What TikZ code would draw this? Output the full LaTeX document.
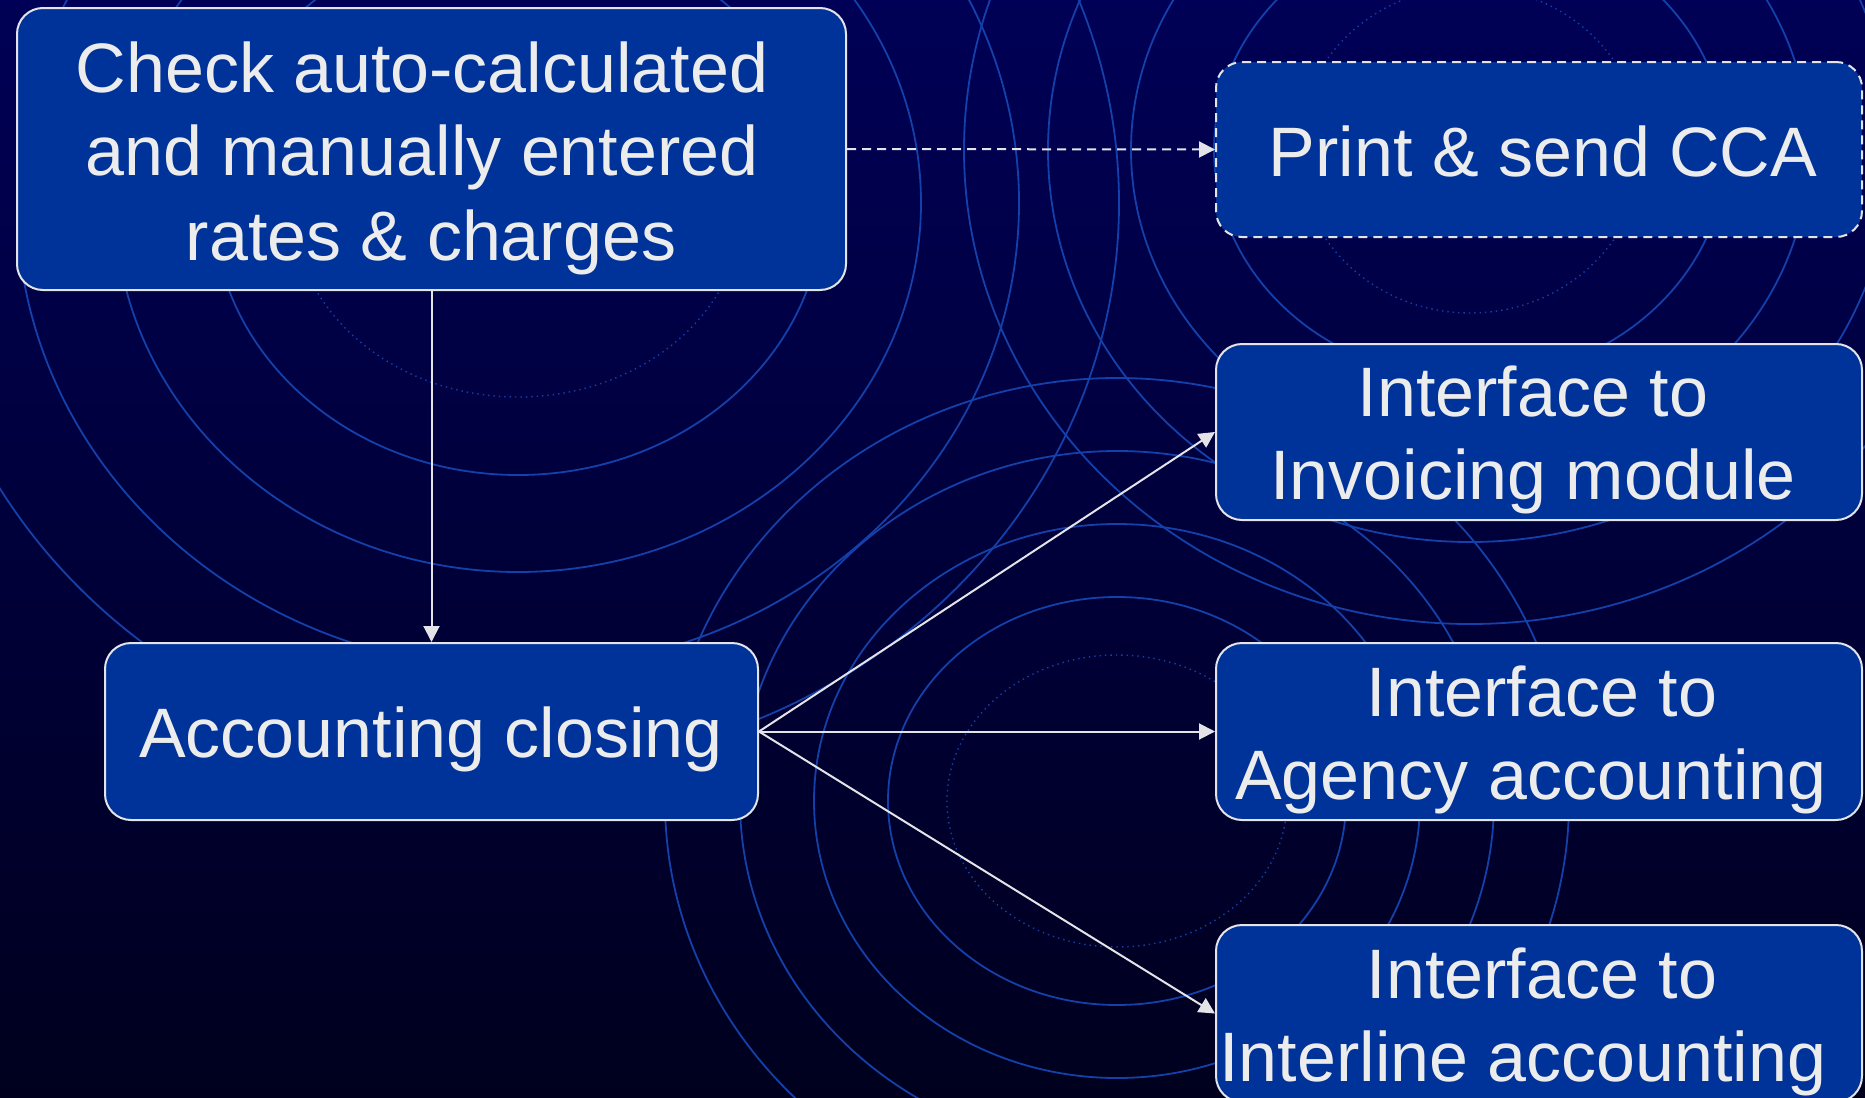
\documentclass[tikz,border=0pt]{standalone}
\usepackage{fontspec}
\setmainfont{Liberation Sans}
\usetikzlibrary{arrows.meta,fit}
\definecolor{bgtop}{RGB}{0,0,86}
\definecolor{bgmid}{RGB}{0,0,90}
\definecolor{bgbot}{RGB}{0,0,30}
\definecolor{ringc}{RGB}{20,64,170}
\definecolor{boxfill}{RGB}{0,51,153}
\definecolor{txtc}{RGB}{236,236,236}
\definecolor{edgec}{RGB}{228,228,232}
\begin{document}
\begin{tikzpicture}[x=0.5pt,y=-0.5pt,
  ring/.style={draw=ringc,line width=0.9pt},
  dotring/.style={draw=ringc,line width=0.7pt,dotted},
  box/.style={draw=edgec,fill=boxfill,line width=1pt,rounded corners=13pt,inner sep=0pt},
  dbox/.style={box,dash pattern=on 4.5pt off 3pt},
  lbl/.style={text=txtc,font=\fontsize{35}{42}\selectfont,anchor=base,inner sep=0pt},
  arr/.style={draw=edgec,line width=1pt,-{Triangle[length=8pt,width=8pt]}},
  darr/.style={arr,dash pattern=on 4.5pt off 3pt}]

\useasboundingbox (0,0) rectangle (1865,1098);
\shade[top color=bgtop,middle color=bgmid,bottom color=bgbot] (0,0) rectangle (1865,1098);

\begin{scope}
\clip (0,0) rectangle (1865,1098);
% ring set A
\draw[dotring] (518,203) ellipse [x radius=113pt, y radius=97pt];
\draw[ring] (518,203) ellipse [x radius=152.5pt, y radius=136pt];
\draw[ring] (518,203) ellipse [x radius=201.5pt, y radius=184.5pt];
\draw[ring] (518,203) ellipse [x radius=250.5pt, y radius=233pt];
\draw[ring] (518,203) ellipse [x radius=300.5pt, y radius=281.5pt];
% ring set B
\draw[dotring] (1470,150) ellipse [x radius=86pt, y radius=81.5pt];
\draw[ring] (1470,150) ellipse [x radius=128pt, y radius=114.5pt];
\draw[ring] (1470,150) ellipse [x radius=169.5pt, y radius=155pt];
\draw[ring] (1470,150) ellipse [x radius=211pt, y radius=196pt];
\draw[ring] (1470,150) ellipse [x radius=253pt, y radius=237pt];
% ring set C
\draw[dotring] (1117,801) ellipse [x radius=85pt, y radius=73pt];
\draw[ring] (1117,801) ellipse [x radius=114.5pt, y radius=102pt];
\draw[ring] (1117,801) ellipse [x radius=151.5pt, y radius=138.5pt];
\draw[ring] (1117,801) ellipse [x radius=188.5pt, y radius=175pt];
\draw[ring] (1117,801) ellipse [x radius=226pt, y radius=211.5pt];
\end{scope}

% boxes
\node[box,fit={(17,8)(846,290)}] (check) {};
\node[dbox,fit={(1216,62)(1862,237)}] (print) {};
\node[box,fit={(1216,344)(1862,520)}] (inv) {};
\node[box,fit={(1216,643)(1862,820)}] (agency) {};
\node[box,fit={(1216,925)(1862,1102)}] (interline) {};
\node[box,fit={(105,643)(758,820)}] (acct) {};

% texts
\node[lbl] (check1) at (422,92) {Check auto-calculated};
\node[lbl] (check2) at (422,175) {and manually entered};
\node[lbl] (check3) at (431,260) {rates \& charges};
\node[lbl] (print1) at (1543,176) {Print \& send CCA};
\node[lbl] (inv1) at (1533,416) {Interface to};
\node[lbl] (inv2) at (1533,499) {Invoicing module};
\node[lbl] (ag1) at (1542,716) {Interface to};
\node[lbl] (ag2) at (1531,799) {Agency accounting};
\node[lbl] (il1) at (1542,998) {Interface to};
\node[lbl] (il2) at (1523,1081) {Interline accounting};
\node[lbl] (acct1) at (431,757) {Accounting closing};

% connectors
\draw[arr] (check.south) -- (acct.north);
\draw[darr] (check.east) -- (print.west);
\draw[arr] (acct.east) -- (inv.west);
\draw[arr] (acct.east) -- (agency.west);
\draw[arr] (acct.east) -- (interline.west);
\end{tikzpicture}
\end{document}
